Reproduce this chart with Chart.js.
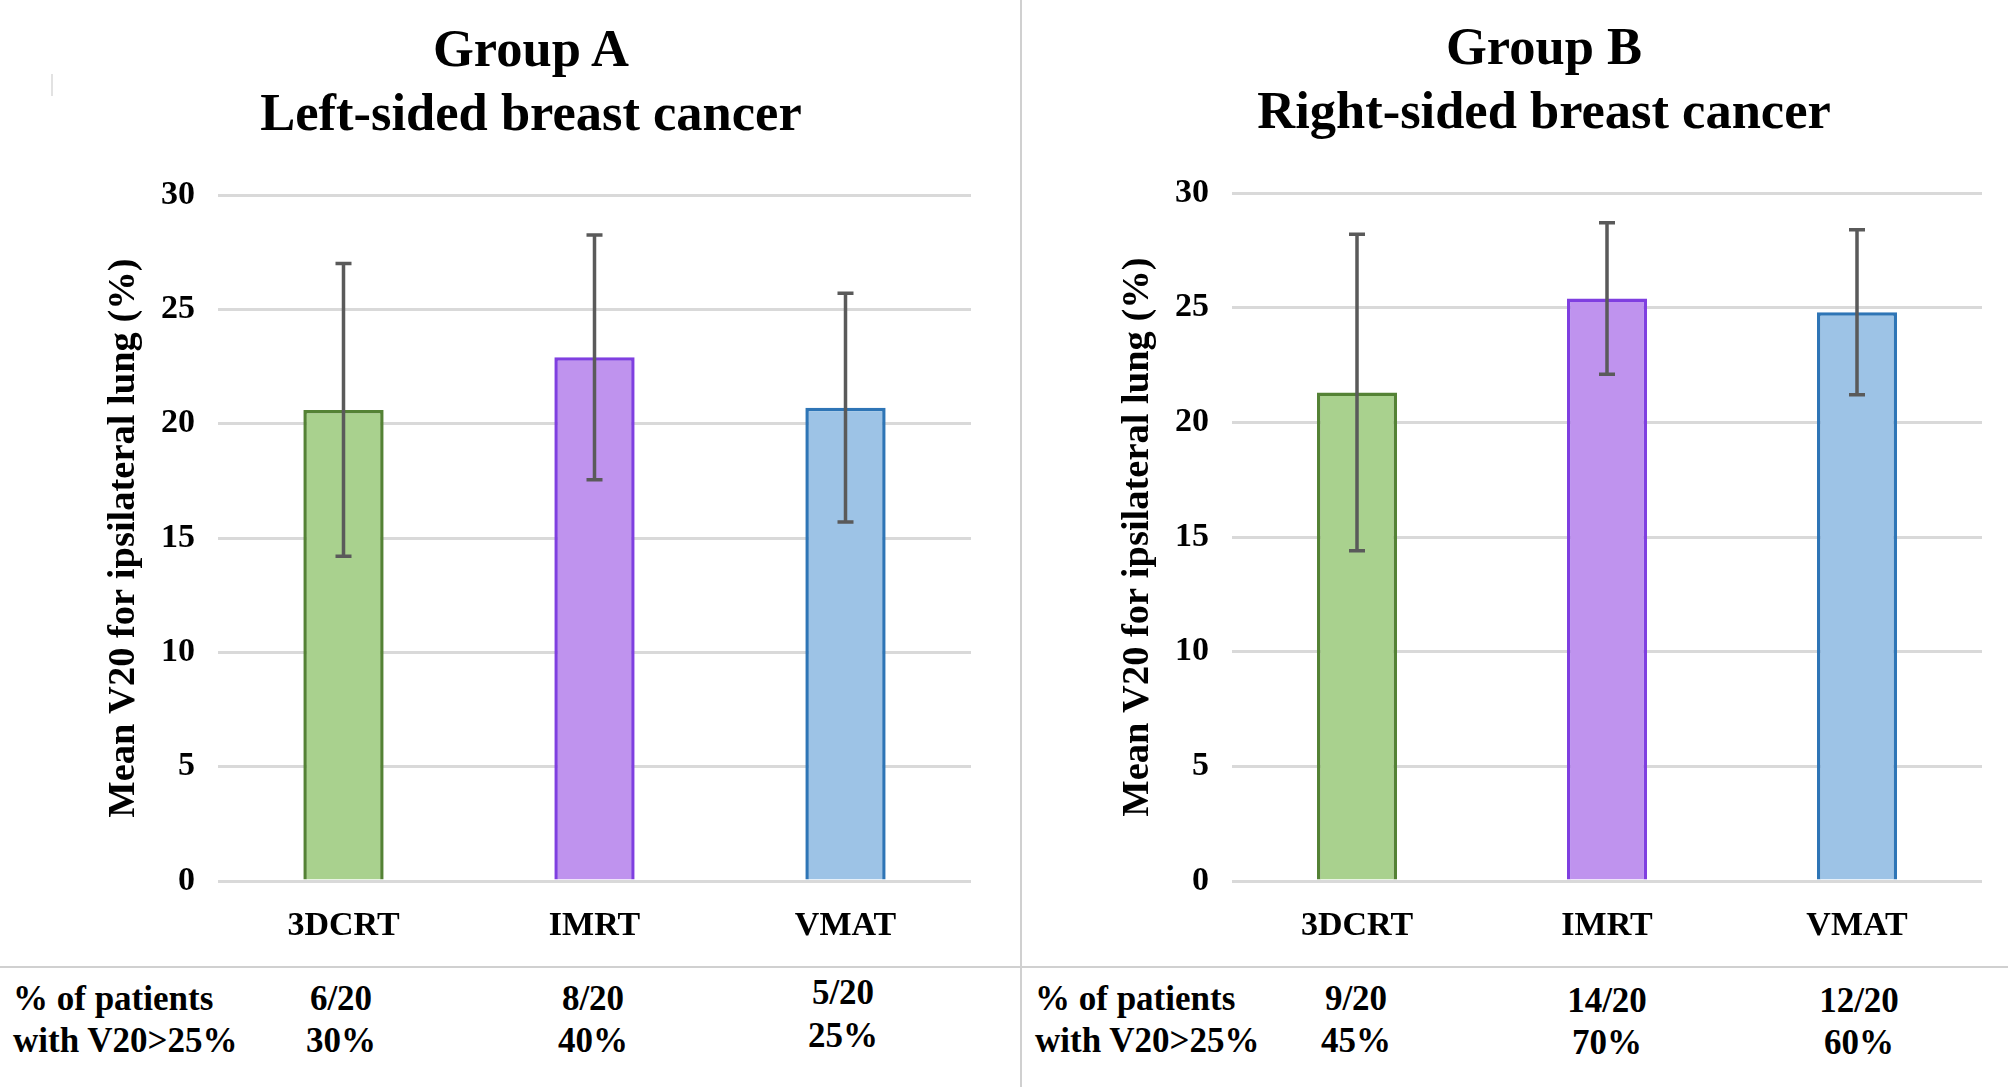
<!DOCTYPE html>
<html>
<head>
<meta charset="utf-8">
<script src="https://cdn.jsdelivr.net/npm/chart.js@4.4.1/dist/chart.umd.min.js"></script>
<style>
  body { margin: 0; background: #fff; }
  #page { position: relative; width: 2008px; height: 1087px; overflow: hidden; background: #fff;
          font-family: 'Liberation Serif', 'Times New Roman', serif; font-weight: bold; color: #000; }
  canvas { position: absolute; top: 0; }
  .c { position: absolute; white-space: nowrap; transform: translate(-50%, -50%); line-height: 1; }
  .l { position: absolute; white-space: nowrap; transform: translateY(-50%); line-height: 1; }
  .title { font-size: 52.5px; }
  .cell { font-size: 35px; }
</style>
</head>
<body>
<div id="page">
  <div style="position:absolute;left:1020px;top:0;width:2px;height:1087px;background:#d0d0d0"></div>
  <div style="position:absolute;left:0;top:966px;width:2008px;height:2px;background:#d0d0d0"></div>
  <div style="position:absolute;left:51px;top:74px;width:2px;height:22px;background:#e2e2e2"></div>

  <div class="c title" style="left:531px;top:48px">Group A</div>
  <div class="c title" style="left:531px;top:112px">Left-sided breast cancer</div>
  <div class="c title" style="left:1544px;top:46px">Group B</div>
  <div class="c title" style="left:1544px;top:110px">Right-sided breast cancer</div>

  <canvas id="chartA" width="971" height="967" style="left:0"></canvas>
  <canvas id="chartB" width="968" height="967" style="left:1014px"></canvas>
  <div id="table"></div>
</div>
<script>
// data
const categories = ['3DCRT', 'IMRT', 'VMAT'];
const meanA = [20.6, 22.9, 20.7];
const sdA = [6.4, 5.35, 5.0];
const meanB = [21.3, 25.4, 24.8];
const sdB = [6.9, 3.3, 3.6];
const patientsA = ['6/20', '8/20', '5/20'];
const percentA = ['30%', '40%', '25%'];
const patientsB = ['9/20', '14/20', '12/20'];
const percentB = ['45%', '70%', '60%'];
const rowLabels = ['% of patients', 'with V20>25%'];

const fills = ['#a9d18e', '#bf93ee', '#9dc3e6'];
const borders = ['#548235', '#7f3fe0', '#2e75b6'];
const serif = "'Liberation Serif', 'Times New Roman', serif";

// error bars (+/- SD) drawn on top of the bars
const errorBars = {
    id: 'errorBars',
    afterDatasetsDraw(chart, args, opts) {
        const ctx = chart.ctx;
        const y = chart.scales.y;
        const meta = chart.getDatasetMeta(0);
        ctx.save();
        ctx.strokeStyle = '#5a5a5a';
        ctx.lineWidth = 3.5;
        meta.data.forEach((bar, i) => {
            const m = chart.data.datasets[0].data[i];
            const top = y.getPixelForValue(m + opts.sd[i]);
            const bot = y.getPixelForValue(m - opts.sd[i]);
            ctx.beginPath();
            ctx.moveTo(bar.x, top);
            ctx.lineTo(bar.x, bot);
            ctx.moveTo(bar.x - 8, top);
            ctx.lineTo(bar.x + 8, top);
            ctx.moveTo(bar.x - 8, bot);
            ctx.lineTo(bar.x + 8, bot);
            ctx.stroke();
        });
        ctx.restore();
    }
};

function createBarChart(elementName, means, sds, topPad) {
    const ctx = document.getElementById(elementName);
    new Chart(ctx, {
        type: 'bar',
        data: {
            labels: categories,
            datasets: [{
                data: means,
                backgroundColor: fills,
                borderColor: borders,
                borderWidth: 3.5,
                categoryPercentage: 1,
                barPercentage: 0.32
            }]
        },
        options: {
            responsive: false,
            animation: false,
            devicePixelRatio: 1,
            layout: { padding: { top: topPad, left: 0, right: 0, bottom: 0 } },
            plugins: {
                legend: { display: false },
                tooltip: { enabled: false },
                errorBars: { sd: sds }
            },
            scales: {
                x: {
                    grid: { display: false, drawTicks: false },
                    border: { display: false },
                    ticks: { color: '#000', padding: 25, font: { family: serif, size: 34, weight: 'bold' } },
                    afterFit: s => { s.height = 86; }
                },
                y: {
                    min: 0,
                    max: 30,
                    ticks: { stepSize: 5, color: '#000', padding: 23, font: { family: serif, size: 34, weight: 'bold' } },
                    grid: { color: '#d9d9d9', lineWidth: 3, drawTicks: false },
                    border: { display: false },
                    title: {
                        display: true,
                        text: 'Mean V20 for ipsilateral lung (%)',
                        color: '#000',
                        padding: { top: 101, bottom: 0 },
                        font: { family: serif, size: 38.5, weight: 'bold' }
                    },
                    afterFit: s => { s.width = 218; }
                }
            }
        },
        plugins: [errorBars]
    });
}

function buildTable() {
    const t = document.getElementById('table');
    const rows = [
        { x: 13, centers: [341, 593, 843], cols: [patientsA, percentA], ys: [[998, 1040], [998, 1040], [992, 1035]] },
        { x: 1035, centers: [1356, 1607, 1859], cols: [patientsB, percentB], ys: [[998, 1040], [1000, 1042], [1000, 1042]] }
    ];
    let html = '';
    rows.forEach(r => {
        html += `<div class="l cell" style="left:${r.x}px;top:998px">${rowLabels[0]}</div>`;
        html += `<div class="l cell" style="left:${r.x}px;top:1040px">${rowLabels[1].replace('>', '&gt;')}</div>`;
        r.centers.forEach((cx, i) => {
            html += `<div class="c cell" style="left:${cx}px;top:${r.ys[i][0]}px">${r.cols[0][i]}</div>`;
            html += `<div class="c cell" style="left:${cx}px;top:${r.ys[i][1]}px">${r.cols[1][i]}</div>`;
        });
    });
    t.innerHTML = html;
}

buildTable();
createBarChart('chartA', meanA, sdA, 195);
createBarChart('chartB', meanB, sdB, 193);
</script>
</body>
</html>
